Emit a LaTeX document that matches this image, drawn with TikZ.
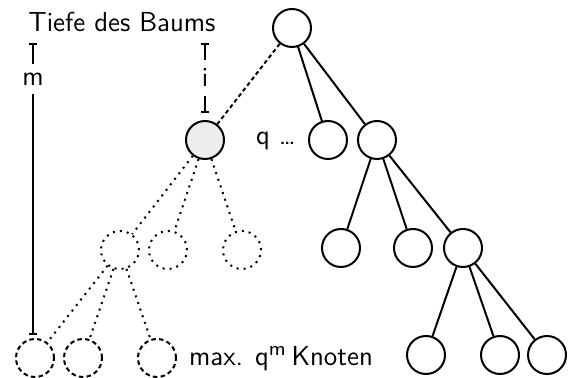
\documentclass[tikz,border=0pt]{standalone}
\usetikzlibrary{arrows.meta}
\begin{document}
\begin{tikzpicture}[x=0.4pt,y=-0.4pt,font=\sffamily\fontsize{11}{13}\selectfont,
  kn/.style={circle,draw,line width=0.8pt,minimum size=15.2pt,inner sep=0pt},
  kdot/.style={kn,dotted},
  kdash/.style={kn,dash pattern=on 1.8pt off 1.3pt},
  ln/.style={line width=0.8pt}]
  \useasboundingbox (0,0) rectangle (574,378);
  % tree
  \node[kn] (r) at (292,28) {};
  \node[kn,fill=black!7] (g) at (205,140) {};
  \node (q) at (276,141) {q \dots};
  \node[kn] (a) at (328,140) {};
  \node[kn] (b) at (377,140) {};
  \node[kn] (c1) at (341,248) {};
  \node[kn] (c2) at (413,248) {};
  \node[kn] (c3) at (463,248) {};
  \node[kn] (d1) at (426,355) {};
  \node[kn] (d2) at (500,355) {};
  \node[kn] (d3) at (547,355) {};
  \node[kdot] (e1) at (120,250) {};
  \node[kdot] (e2) at (168,250) {};
  \node[kdot] (e3) at (242,250) {};
  \node[kdash] (f1) at (35,358) {};
  \node[kdash] (f2) at (83,358) {};
  \node[kdash] (f3) at (157,358) {};
  \foreach \p/\q in {r/a,r/b,b/c1,b/c2,b/c3,c3/d1,c3/d2,c3/d3} \draw[ln] (\p) -- (\q);
  \foreach \p/\q in {g/e1,g/e2,g/e3,e1/f1,e1/f2,e1/f3} \draw[ln,dotted] (\p) -- (\q);
  \draw[ln,dash pattern=on 1.6pt off 1.2pt] (r) -- (g);
  % labels
  \node (tb) at (122,22) {Tiefe des Baums};
  \node (mx) at (281,359) {max. q$^{\mathsf{m}}$\,Knoten};
  % depth bars
  \coordinate (mt) at (33,43);
  \coordinate (mb) at (33,335);
  \node (m) at (33,79) {m};
  \draw[ln,{Bar[width=3.5pt]}-] (mt) -- (m);
  \draw[ln,-{Bar[width=3.5pt]}] (m) -- (mb);
  \coordinate (it) at (205,43);
  \coordinate (ib) at (205,113);
  \node (i) at (205,78) {i};
  \draw[ln,{Bar[width=3.5pt]}-] (it) -- (i);
  \draw[ln,-{Bar[width=3.5pt]}] (i) -- (ib);
\end{tikzpicture}
\end{document}
